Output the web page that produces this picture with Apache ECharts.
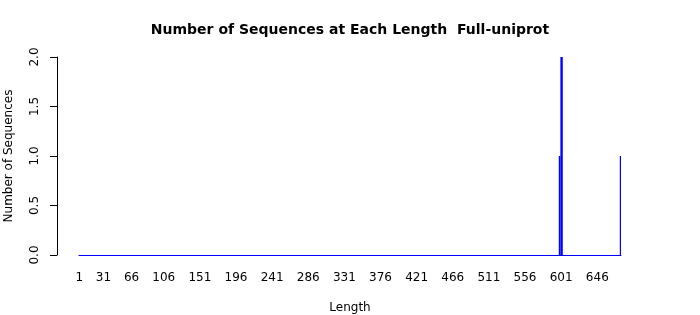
<!DOCTYPE html>
<html><head><meta charset="utf-8">
<script src="https://cdn.jsdelivr.net/npm/echarts@6/dist/echarts.min.js"></script>
<style>html,body{margin:0;padding:0;background:#fff}#c{width:700px;height:315px}</style>
</head><body><div id="c"></div>
<script>
const maxLength = 675;
const categories = Array.from({length: maxLength}, (_, i) => String(i + 1));
const nonZeroLengths = [599, 601, 602, 675];
const nonZeroCounts = [1, 2, 2, 1];
const tickLabels = [1, 31, 66, 106, 151, 196, 241, 286, 331, 376, 421, 466, 511, 556, 601, 646];
const yTicks = [0, 0.5, 1, 1.5, 2];

const counts = categories.map(c => {
  const k = nonZeroLengths.indexOf(Number(c));
  return k >= 0 ? nonZeroCounts[k] : 0;
});
const font = 'DejaVu Sans';
const chart = echarts.init(document.getElementById('c'), null, {renderer: 'canvas'});
chart.setOption({
  animation: false,
  backgroundColor: '#ffffff',
  title: {
    text: 'Number of Sequences at Each Length  Full-uniprot',
    left: 'center', top: 18,
    textStyle: {fontFamily: font, fontWeight: 'bold', fontSize: 14, color: '#000'}
  },
  grid: {left: 79, right: 79, top: 57, bottom: 60, containLabel: false, outerBoundsMode: 'none'},
  xAxis: {
    type: 'category',
    data: categories,
    boundaryGap: true,
    name: 'Length', nameLocation: 'middle', nameGap: 47,
    nameTextStyle: {fontFamily: font, fontSize: 12, color: '#000'},
    axisLine: {show: true, lineStyle: {color: '#0000ff', width: 1}},
    axisTick: {show: false},
    axisLabel: {
      interval: (idx, val) => tickLabels.includes(Number(val)),
      fontFamily: font, fontSize: 12, color: '#000', margin: 17, hideOverlap: false
    },
    splitLine: {show: false}
  },
  yAxis: {
    type: 'value', min: yTicks[0], max: yTicks[yTicks.length - 1], interval: 0.5,
    offset: 22,
    name: 'Number of Sequences', nameLocation: 'middle', nameGap: 42,
    nameTextStyle: {fontFamily: font, fontSize: 12, color: '#000'},
    axisLine: {show: true, lineStyle: {color: '#000', width: 1}},
    axisTick: {show: true, length: 7, lineStyle: {color: '#000'}},
    axisLabel: {rotate: 90, fontFamily: font, fontSize: 12, color: '#000', margin: 16,
      formatter: v => v.toFixed(1)},
    splitLine: {show: false}
  },
  series: [{
    type: 'bar',
    data: counts,
    barWidth: 1.6,
    barGap: '-100%',
    itemStyle: {color: '#0000ff'},
    silent: true
  }]
});
</script></body></html>
